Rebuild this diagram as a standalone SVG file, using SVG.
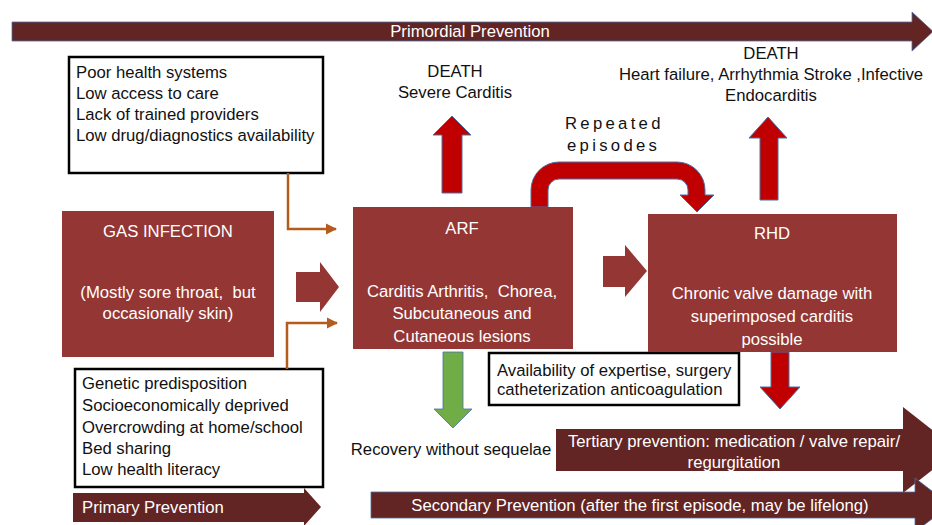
<svg xmlns="http://www.w3.org/2000/svg" width="932" height="525" viewBox="0 0 932 525">
<defs>
<style>
text{font-family:"Liberation Sans",Arial,sans-serif;font-size:16.7px;white-space:pre}
.w{fill:#ffffff}
.k{fill:#111111}
.c{text-anchor:middle}
.box{fill:#943634}
.band{fill:#632523}
.red{fill:#c00000;stroke:#4a6fa5;stroke-width:1}
.frame{fill:#ffffff;stroke:#000000;stroke-width:2.5}
.conn{fill:none;stroke:#b35c1e;stroke-width:2.5}
.sp{letter-spacing:3.3px}
</style>
<marker id="ah" viewBox="0 0 10 10" refX="9" refY="5" markerWidth="4.5" markerHeight="4.5" orient="auto" markerUnits="strokeWidth">
<path d="M0,0 L10,5 L0,10 Z" fill="#b35c1e"/>
</marker>
</defs>
<rect width="932" height="525" fill="#ffffff"/>

<g id="primordial">
<path class="band" d="M12,22 H912 V12 L933,31.5 L912,51 V41 H12 Z" stroke="#4a6fa5" stroke-width="0.8"/>
<text class="w c" x="470" y="37">Primordial Prevention</text>
</g>

<g id="tertiary">
<path class="band" d="M556,429 H903 V407 L958,450 L903,493 V471 H556 Z"/>
<text class="w c" x="734" y="447">Tertiary prevention: medication / valve repair/</text>
<text class="w c" x="734" y="468">regurgitation</text>
</g>

<g id="secondary">
<path class="band" d="M371,492 H915 V478 L950,505 L915,532 V518 H371 Z" stroke="#4a6fa5" stroke-width="0.8"/>
<text class="w c" x="640" y="511">Secondary Prevention (after the first episode, may be lifelong)</text>
</g>

<g id="primary">
<path class="band" d="M73,493 H304 V488 L321,507 L304,526 V522 H73 Z"/>
<text class="w" x="82" y="513">Primary Prevention</text>
</g>

<g id="health-systems">
<rect class="frame" x="69" y="57" width="254" height="116"/>
<text class="k" x="76" y="78">Poor health systems</text>
<text class="k" x="76" y="99">Low access to care</text>
<text class="k" x="76" y="120">Lack of trained providers</text>
<text class="k" x="76" y="141">Low drug/diagnostics availability</text>
</g>

<g id="risk-factors">
<rect class="frame" x="75" y="369" width="248" height="118"/>
<text class="k" x="82" y="389">Genetic predisposition</text>
<text class="k" x="82" y="411">Socioeconomically deprived</text>
<text class="k" x="82" y="433">Overcrowding at home/school</text>
<text class="k" x="82" y="454">Bed sharing</text>
<text class="k" x="82" y="475">Low health literacy</text>
</g>

<g id="expertise">
<rect class="frame" x="489" y="353" width="250" height="52"/>
<text class="k" x="497" y="376">Availability of expertise, surgery</text>
<text class="k" x="497" y="395">catheterization anticoagulation</text>
</g>

<g id="connectors">
<path class="conn" d="M288,173 V229 H336" marker-end="url(#ah)"/>
<path class="conn" d="M287,369 V323 H337" marker-end="url(#ah)"/>
<path class="box" d="M296,272 H320 V262 L339,287 L320,312 V302 H296 Z"/>
<path class="box" d="M603,256 H625 V245 L647,271 L625,297 V287 H603 Z"/>
<path class="red" d="M442,193 V135 H433 L452,116 L471,135 H462 V193 Z"/>
<path class="red" d="M760,200 V138 H749 L768,117 L787,138 H778 V200 Z"/>
<path class="red" d="M531,207 V190 A28,28 0 0 1 559,162 H677 A28,28 0 0 1 705,190 V195 H714 L697,212 L680,195 H688 V190 A11,11 0 0 0 677,179 H559 A11,11 0 0 0 548,190 V207 Z"/>
<path class="red" d="M771,352 V387 H760 L780,409 L800,387 H789 V352 Z"/>
<path d="M443,352 V409 H434 L453,428 L472,409 H463 V352 Z" fill="#70ad47" stroke="#4a6fa5" stroke-width="0.8"/>
</g>

<g id="gas">
<rect class="box" x="62" y="211" width="212" height="146"/>
<text class="w c" x="168" y="237">GAS INFECTION</text>
<text class="w c" x="168" y="298">(Mostly sore throat,  but</text>
<text class="w c" x="168" y="319">occasionally skin)</text>
</g>

<g id="arf">
<rect class="box" x="353" y="207" width="220" height="142"/>
<text class="w c" x="462" y="234">ARF</text>
<text class="w c" x="462" y="297">Carditis Arthritis,  Chorea,</text>
<text class="w c" x="462" y="319">Subcutaneous and</text>
<text class="w c" x="462" y="342">Cutaneous lesions</text>
</g>

<g id="rhd">
<rect class="box" x="648" y="214" width="249" height="138"/>
<text class="w c" x="772" y="239">RHD</text>
<text class="w c" x="772" y="299">Chronic valve damage with</text>
<text class="w c" x="772" y="322">superimposed carditis</text>
<text class="w c" x="772" y="345">possible</text>
</g>

<g id="death-arf">
<text class="k c" x="455" y="77">DEATH</text>
<text class="k c" x="455" y="98">Severe Carditis</text>
</g>

<g id="death-rhd">
<text class="k c" x="771" y="59">DEATH</text>
<text class="k c" x="771" y="80">Heart failure, Arrhythmia Stroke ,Infective</text>
<text class="k c" x="771" y="101">Endocarditis</text>
</g>

<g id="repeated">
<text class="k sp" x="565" y="129">Repeated</text>
<text class="k sp" x="567" y="151">episodes</text>
</g>

<g id="recovery">
<text class="k c" x="451" y="455">Recovery without sequelae</text>
</g>
</svg>
